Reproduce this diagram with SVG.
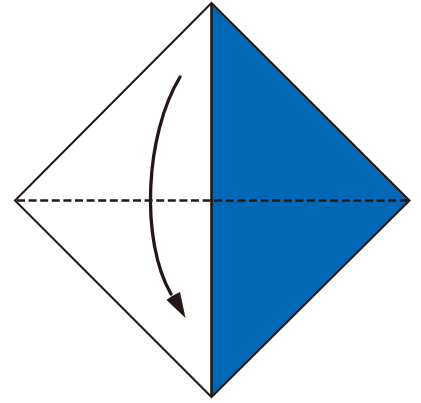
<svg xmlns="http://www.w3.org/2000/svg" width="421" height="403" viewBox="0 0 421 403">
<style>
.edge{fill:none;stroke:#231815;stroke-width:2;stroke-linejoin:miter}
.fold{fill:none;stroke:#231815;stroke-width:2.4;stroke-dasharray:8 3.6}
.arrow{fill:none;stroke:#231815;stroke-width:3.3;stroke-linecap:round}
</style>
<rect width="421" height="403" fill="#ffffff"/>
<g id="paper">
<polygon points="211.5,3 15,200.5 211.5,397" fill="#ffffff"/>
<polygon points="211.5,3 409.5,200.5 211.5,397" fill="#0068b7"/>
<polygon class="edge" points="211.5,3 409.5,200.5 211.5,397 15,200.5"/>
<line x1="211.5" y1="3" x2="211.5" y2="397" stroke="#231815" stroke-width="2.6"/>
</g>
<g id="connectors">
<line class="fold" x1="17" y1="200.5" x2="408" y2="200.5"/>
<path class="arrow" d="M180,77 C145,135 140,240 171,294"/>
<polygon points="185.5,318 166.5,300 172,296 180,292" fill="#231815"/>
</g>
</svg>
